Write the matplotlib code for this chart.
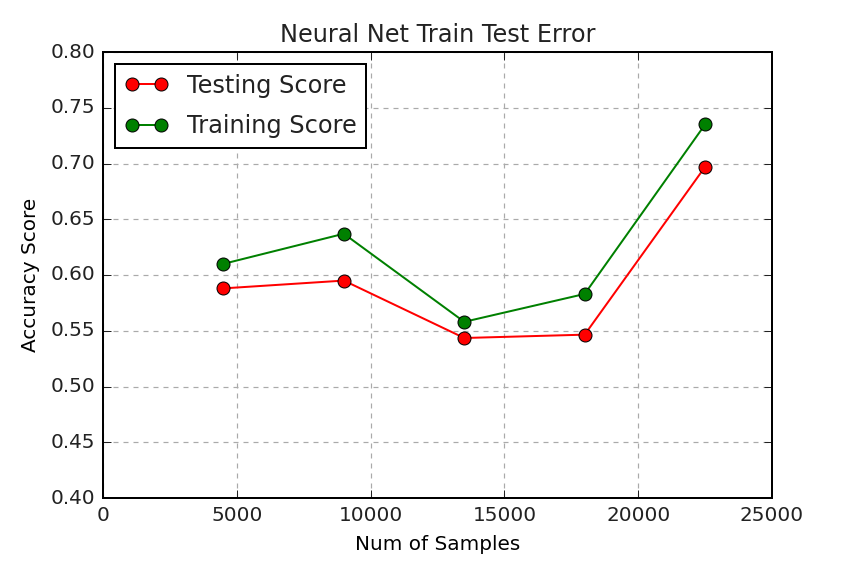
import matplotlib
matplotlib.use("Agg")
from matplotlib import pyplot as plt

# data
samples = [4500, 9000, 13500, 18000, 22500]
testing_score = [0.588, 0.595, 0.5435, 0.5465, 0.697]
training_score = [0.610, 0.637, 0.558, 0.583, 0.735]

plt.style.use('classic')
plt.rcParams['font.family'] = ['DejaVu Sans']
plt.rcParams['font.size'] = 10
plt.rcParams['text.color'] = '#222222'
plt.rcParams['xtick.color'] = '#222222'
plt.rcParams['ytick.color'] = '#222222'

fig = plt.figure(figsize=(844 / 144, 570 / 144), dpi=144, facecolor='white')
ax = fig.add_axes([103 / 844, 1 - 498 / 570, (772 - 103) / 844, (498 - 52) / 570])
ax.set_axisbelow(True)

ax.plot(samples, testing_score, 'o-', color='r', markersize=6.5, label='Testing Score')
ax.plot(samples, training_score, 'o-', color='g', markersize=6.5, label='Training Score')

ax.set_xlim(0, 25000)
ax.set_ylim(0.40, 0.80)
ax.set_xticks([0, 5000, 10000, 15000, 20000, 25000])
ax.set_yticks([0.40, 0.45, 0.50, 0.55, 0.60, 0.65, 0.70, 0.75, 0.80])
ax.grid(True, color='#aaaaaa', linestyle=(0, (2.5, 2.5)), linewidth=0.6)
ax.set_title('Neural Net Train Test Error', fontsize=12)
ax.set_xlabel('Num of Samples')
ax.set_ylabel('Accuracy Score')
ax.legend(loc='upper left', fontsize=12, labelspacing=0.7, handlelength=1.8)

fig.savefig('out.png', dpi=144, facecolor='white')
